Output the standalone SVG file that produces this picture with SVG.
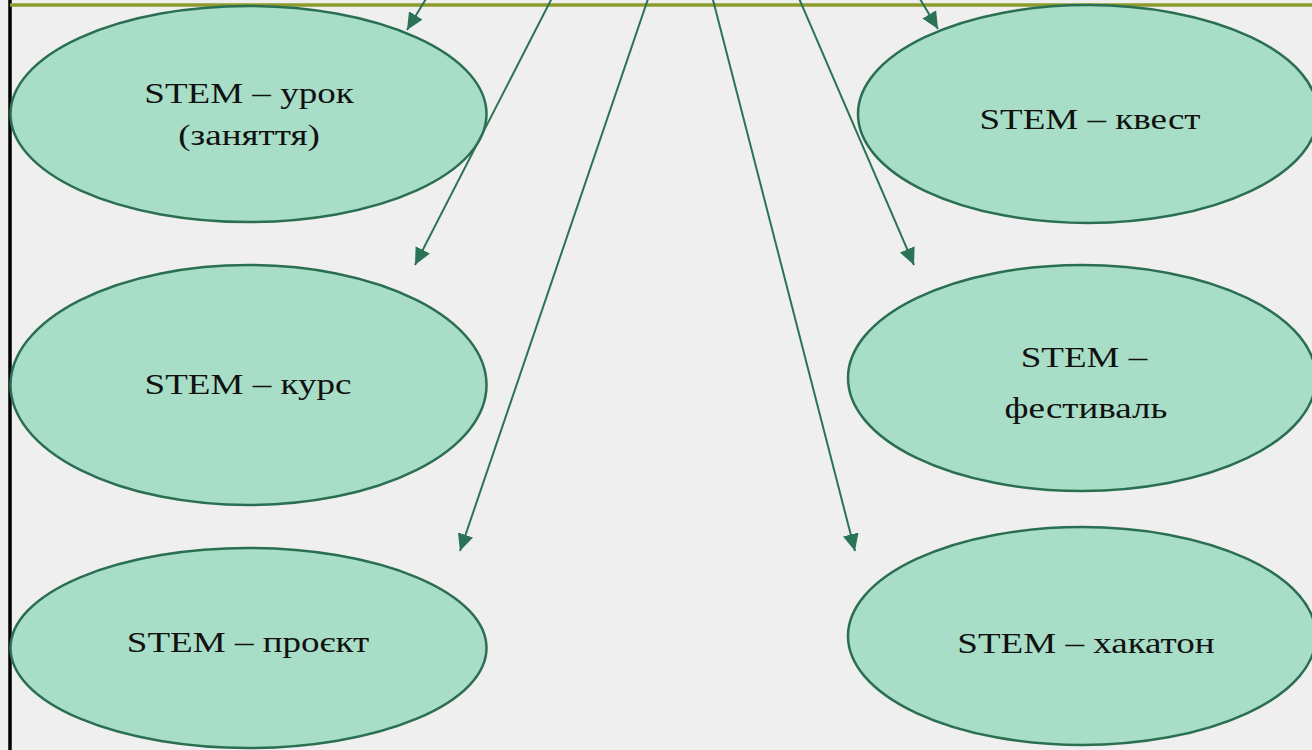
<svg xmlns="http://www.w3.org/2000/svg" width="1312" height="750" viewBox="0 0 1312 750">
<defs>
<style>
.node ellipse{fill:#a8ddc7;stroke:#2b6f52;stroke-width:2.5}
.node text{font-family:"Liberation Serif","Times New Roman",serif;font-size:28.5px;fill:#111;text-anchor:middle}
.conn line{stroke:#2b7356;stroke-width:2;marker-end:url(#ah)}
</style>
<marker id="ah" markerUnits="userSpaceOnUse" markerWidth="20" markerHeight="18" refX="17" refY="8" orient="auto">
<path d="M0,0 L17,8 L0,16 z" fill="#2b7356"/>
</marker>
</defs>
<rect x="0" y="0" width="1312" height="750" fill="#efefef"/>
<line x1="10" y1="0" x2="10" y2="750" stroke="#000" stroke-width="3.5"/>
<line x1="10" y1="5" x2="1312" y2="5" stroke="#8c9b2b" stroke-width="3.5"/>
<g id="n1" class="node">
<ellipse cx="248.5" cy="114" rx="238" ry="108"/>
<text transform="translate(249,103) scale(1.3,1)">STEM – урок</text>
<text transform="translate(249,145) scale(1.3,1)">(заняття)</text>
</g>
<g id="n2" class="node">
<ellipse cx="248.5" cy="385" rx="238" ry="120"/>
<text transform="translate(248,394) scale(1.3,1)">STEM – курс</text>
</g>
<g id="n3" class="node">
<ellipse cx="248.5" cy="648" rx="238" ry="100"/>
<text transform="translate(248,652) scale(1.3,1)">STEM – проєкт</text>
</g>
<g id="n4" class="node">
<ellipse cx="1088" cy="114" rx="230" ry="109"/>
<text transform="translate(1090,129) scale(1.3,1)">STEM – квест</text>
</g>
<g id="n5" class="node">
<ellipse cx="1082" cy="378" rx="234" ry="113"/>
<text transform="translate(1084,367) scale(1.3,1)">STEM –</text>
<text transform="translate(1086,418) scale(1.3,1)">фестиваль</text>
</g>
<g id="n6" class="node">
<ellipse cx="1082" cy="636" rx="234" ry="109"/>
<text transform="translate(1086,653) scale(1.3,1)">STEM – хакатон</text>
</g>
<g id="connectors" class="conn">
<line x1="429" y1="-6" x2="407" y2="30"/>
<line x1="553" y1="-4" x2="415" y2="265"/>
<line x1="649" y1="-4" x2="460" y2="551"/>
<line x1="712" y1="-4" x2="855" y2="551"/>
<line x1="798" y1="-4" x2="914" y2="265"/>
<line x1="917" y1="-6" x2="938" y2="29"/>
</g>
</svg>
